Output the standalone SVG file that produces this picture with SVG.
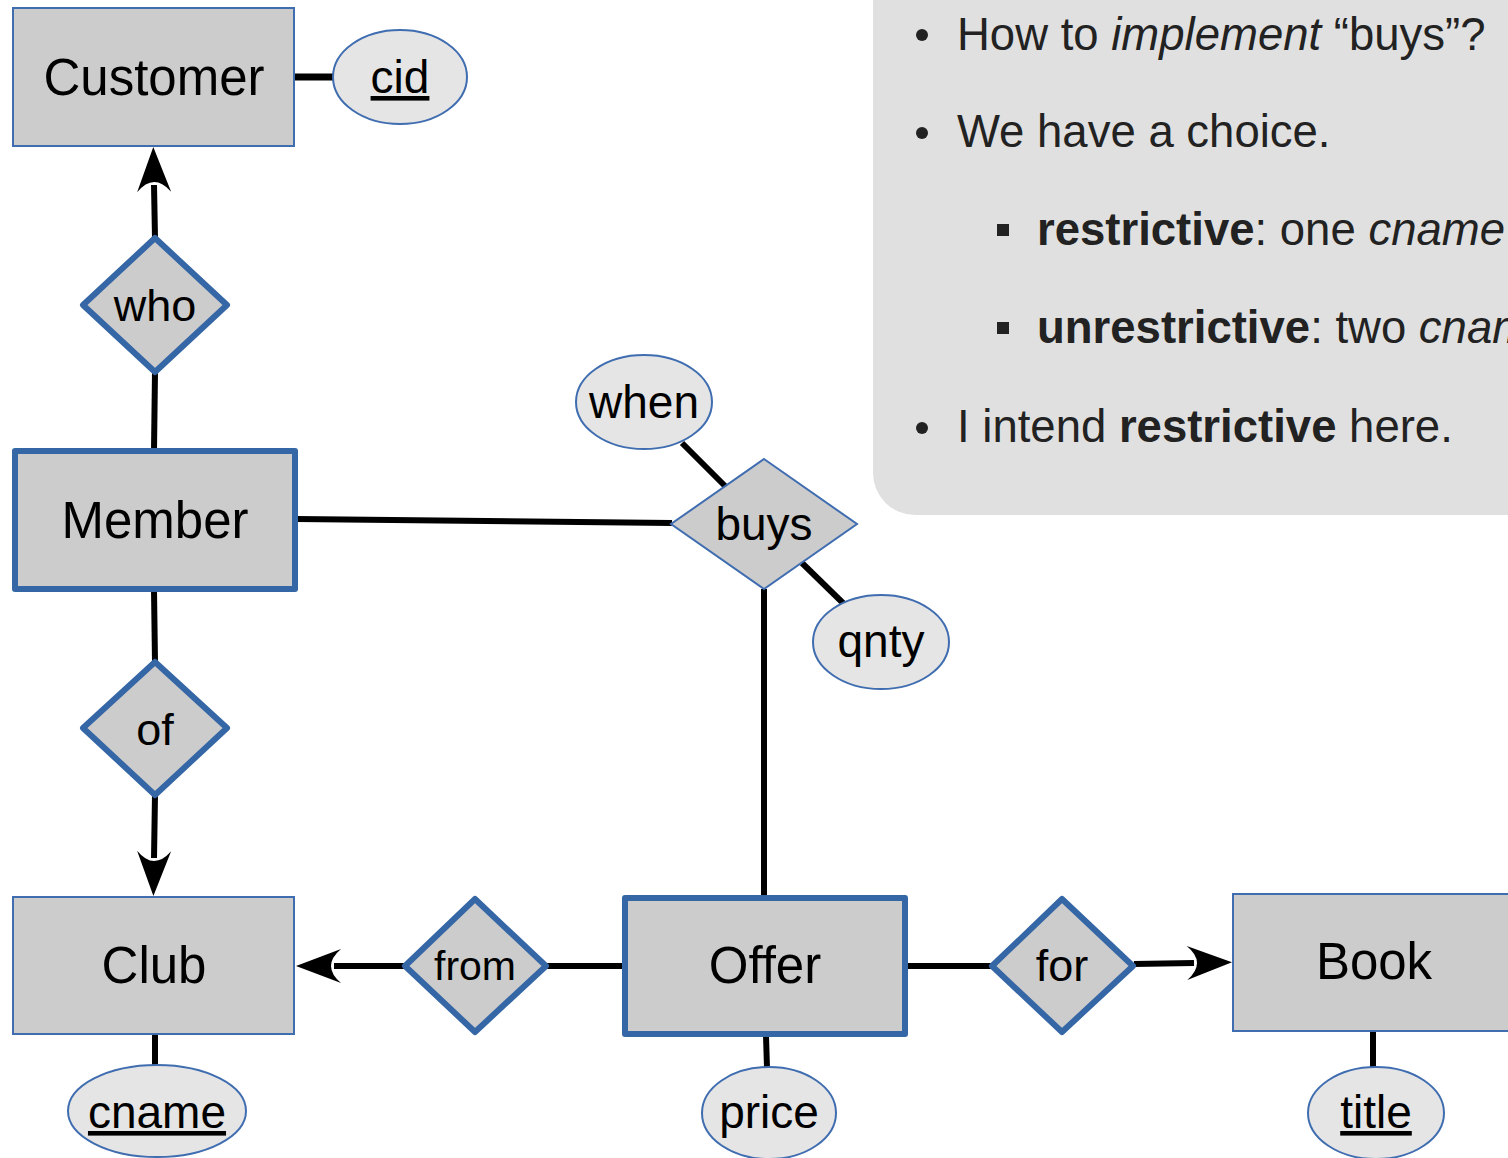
<svg xmlns="http://www.w3.org/2000/svg" width="1508" height="1158" viewBox="0 0 1508 1158">
<style>
  .ent { fill: #cccccc; stroke: #3f6db0; stroke-width: 2; }
  .went { fill: #cccccc; stroke: #3566a5; stroke-width: 6; stroke-linejoin: round; }
  .rel { fill: #cccccc; stroke: #3f6db0; stroke-width: 2; }
  .wrel { fill: #cccccc; stroke: #3566a5; stroke-width: 6; stroke-linejoin: round; }
  .att { fill: #e5e5e5; stroke: #3f6db0; stroke-width: 2; }
  .t { font-family: "Liberation Sans", Arial, sans-serif; fill: #000; text-anchor: middle; }
  .te { font-size: 51px; }
  .tr { font-size: 45px; }
  .ta { font-size: 46px; }
  .u { text-decoration: underline; }
  .c { stroke: #000; stroke-width: 6; fill: none; }
  .arr { stroke: #000; stroke-width: 6; fill: none; marker-end: url(#ah); }
  .note { font-family: "Liberation Sans", Arial, sans-serif; font-size: 45.5px; fill: #222; }
</style>
<defs>
  <marker id="ah" markerUnits="userSpaceOnUse" viewBox="0 0 45 34" refX="7" refY="17" markerWidth="45" markerHeight="34" orient="auto" overflow="visible">
    <path d="M45,17 L0,0 Q20,17 0,34 Z" fill="#000"/>
  </marker>
</defs>
<rect width="1508" height="1158" fill="#ffffff"/>

<g id="note">
  <rect x="873" y="-60" width="700" height="575" rx="42" fill="#e0e0e0"/>
  <circle cx="922" cy="35" r="6" fill="#222"/>
  <text class="note" x="957" y="50">How to <tspan font-style="italic">implement</tspan> “buys”?</text>
  <circle cx="922" cy="133" r="6" fill="#222"/>
  <text class="note" x="957" y="147">We have a choice.</text>
  <rect x="997" y="224" width="12" height="12" fill="#222"/>
  <text class="note" x="1037" y="245"><tspan font-weight="bold">restrictive</tspan>: one <tspan font-style="italic">cname</tspan></text>
  <rect x="997" y="322" width="12" height="12" fill="#222"/>
  <text class="note" x="1037" y="343"><tspan font-weight="bold">unrestrictive</tspan>: two <tspan font-style="italic">cname</tspan></text>
  <circle cx="922" cy="428" r="6" fill="#222"/>
  <text class="note" x="957" y="442">I intend <tspan font-weight="bold">restrictive</tspan> here.</text>
</g>

<g id="connectors">
  <line class="c" x1="294" y1="77" x2="333" y2="77" style="stroke-width:7"/>
  <line class="arr" x1="155" y1="238" x2="154" y2="185"/>
  <line class="c" x1="155" y1="372" x2="154" y2="450"/>
  <line class="c" x1="297" y1="519" x2="672" y2="523"/>
  <line class="c" x1="682" y1="443" x2="726" y2="487"/>
  <line class="c" x1="802" y1="563" x2="844" y2="604"/>
  <line class="c" x1="764" y1="589" x2="764" y2="897"/>
  <line class="c" x1="154" y1="590" x2="155" y2="662"/>
  <line class="arr" x1="155" y1="795" x2="154" y2="858"/>
  <line class="c" x1="155" y1="1034" x2="155" y2="1066"/>
  <line class="arr" x1="404" y1="966" x2="334" y2="966"/>
  <line class="c" x1="546" y1="966" x2="624" y2="966"/>
  <line class="c" x1="905" y1="966" x2="992" y2="966"/>
  <line class="arr" x1="1134" y1="964" x2="1194" y2="963"/>
  <line class="c" x1="766" y1="1036" x2="767" y2="1068"/>
  <line class="c" x1="1373" y1="1031" x2="1373" y2="1068"/>
</g>

<g id="customer">
  <rect class="ent" x="13" y="8" width="281" height="138"/>
  <text class="t te" x="154" y="95">Customer</text>
</g>
<g id="cid">
  <ellipse class="att" cx="400" cy="77" rx="67" ry="47"/>
  <text class="t ta u" x="400" y="93">cid</text>
</g>
<g id="who">
  <polygon class="wrel" points="155,238 227,305 155,372 83,305"/>
  <text class="t tr" x="155" y="321">who</text>
</g>
<g id="member">
  <rect class="went" x="15" y="451" width="280" height="138"/>
  <text class="t te" x="155" y="538">Member</text>
</g>
<g id="buys">
  <polygon class="rel" points="764,459 857,524 764,589 671,524"/>
  <text class="t ta" x="764" y="540">buys</text>
</g>
<g id="when">
  <ellipse class="att" cx="644" cy="402" rx="68" ry="47"/>
  <text class="t ta" x="644" y="418">when</text>
</g>
<g id="qnty">
  <ellipse class="att" cx="881" cy="642" rx="68" ry="47"/>
  <text class="t ta" x="881" y="657">qnty</text>
</g>
<g id="of">
  <polygon class="wrel" points="155,662 227,728 155,795 83,728"/>
  <text class="t tr" x="155" y="745">of</text>
</g>
<g id="club">
  <rect class="ent" x="13" y="897" width="281" height="137"/>
  <text class="t te" x="154" y="983">Club</text>
</g>
<g id="cname">
  <ellipse class="att" cx="157" cy="1111" rx="89" ry="46"/>
  <text class="t ta u" x="157" y="1128">cname</text>
</g>
<g id="from">
  <polygon class="wrel" points="475,899 546,966 475,1032 405,966"/>
  <text class="t" x="475" y="980" style="font-size:41px">from</text>
</g>
<g id="offer">
  <rect class="went" x="625" y="898" width="280" height="136"/>
  <text class="t te" x="765" y="983">Offer</text>
</g>
<g id="price">
  <ellipse class="att" cx="769" cy="1113" rx="67" ry="46"/>
  <text class="t ta" x="769" y="1128">price</text>
</g>
<g id="for">
  <polygon class="wrel" points="1062,899 1133,966 1062,1032 992,966"/>
  <text class="t tr" x="1062" y="981">for</text>
</g>
<g id="book">
  <rect class="ent" x="1233" y="894" width="300" height="137"/>
  <text class="t te" x="1374" y="979">Book</text>
</g>
<g id="title">
  <ellipse class="att" cx="1376" cy="1113" rx="68" ry="46"/>
  <text class="t ta u" x="1376" y="1128">title</text>
</g>
</svg>
